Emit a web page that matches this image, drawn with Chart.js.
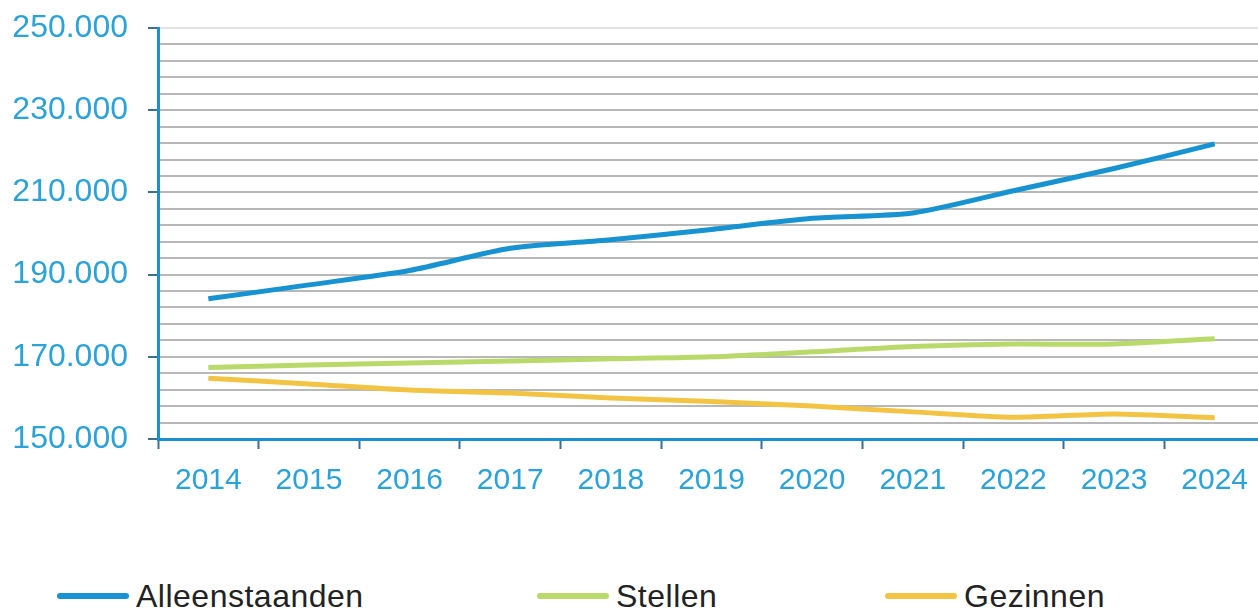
<!DOCTYPE html>
<html>
<head>
<meta charset="utf-8">
<script src="https://cdn.jsdelivr.net/npm/chart.js@4/dist/chart.umd.min.js"></script>
<style>
  html, body { margin: 0; padding: 0; background: #fff; overflow: hidden; }
  #wrap { position: relative; width: 1258px; height: 610px; overflow: hidden; }
  #chartBox { position: absolute; left: 0; top: 0; width: 1266px; height: 540px; }
  .legend-item { position: absolute; top: 578px; display: flex; align-items: center; line-height: 36px;
    font-family: "Liberation Sans", Arial, sans-serif; font-size: 32px; color: #222; letter-spacing: 0.5px; }
  .legend-item span.swatch { display: inline-block; height: 6px; border-radius: 3px; margin-right: 7px; }
</style>
</head>
<body>
<div id="wrap">
  <div id="chartBox"><canvas id="lineChart" width="1266" height="540"></canvas></div>
  <div id="legend"></div>
</div>
<script>
const years = ['2014', '2015', '2016', '2017', '2018', '2019', '2020', '2021', '2022', '2023', '2024'];
const seriesNames = ['Alleenstaanden', 'Stellen', 'Gezinnen'];
const alleenstaanden = [184100, 187500, 191000, 196400, 198500, 201000, 203700, 205000, 210400, 215800, 221800];
const stellen = [167400, 168000, 168500, 169000, 169500, 170000, 171200, 172500, 173100, 173100, 174400];
const gezinnen = [164800, 163400, 161900, 161200, 160000, 159100, 158000, 156600, 155300, 156100, 155200];
const yLabelValues = [150000, 170000, 190000, 210000, 230000, 250000];

const colors = ['#1793d1', '#b9da6b', '#f3c444'];
const axisBlue = '#1a8fd2';
const labelBlue = '#2ba2d8';

function formatThousands(v) {
    return String(v).replace(/\B(?=(\d{3})+(?!\d))/g, '.');
}

const ctx = document.getElementById('lineChart').getContext('2d');
const allSeries = [alleenstaanden, stellen, gezinnen];

new Chart(ctx, {
    type: 'line',
    data: {
        labels: years,
        datasets: allSeries.map((vals, i) => ({
            label: seriesNames[i],
            data: vals,
            borderColor: colors[i],
            borderWidth: 5,
            pointRadius: 0,
            tension: 0.25,
            fill: false
        }))
    },
    options: {
        responsive: false,
        animation: false,
        layout: { padding: { top: 28, right: 1, left: 0, bottom: 0 } },
        plugins: {
            legend: { display: false },
            tooltip: { enabled: false }
        },
        scales: {
            y: {
                min: 150000,
                max: 250000,
                afterFit: (scale) => {
                    scale.width = 158;
                    scale.paddingTop = 0;
                    scale.paddingBottom = 0;
                },
                border: { display: true, color: axisBlue, width: 3 },
                grid: {
                    color: (c) => c.tick && c.tick.value === 250000 ? '#e2e2e2' : '#b8b8b8',
                    lineWidth: 2,
                    tickLength: 10,
                    tickColor: (c) => yLabelValues.includes(c.tick.value) ? '#3a6f93' : 'rgba(0,0,0,0)',
                    tickWidth: 2
                },
                ticks: {
                    stepSize: 4000,
                    autoSkip: false,
                    padding: 20,
                    color: labelBlue,
                    font: { family: 'Liberation Sans', size: 32 },
                    callback: (v) => yLabelValues.includes(v) ? formatThousands(v) : ''
                }
            },
            x: {
                offset: true,
                afterFit: (scale) => { scale.height = 101; },
                border: { display: true, color: axisBlue, width: 3 },
                grid: {
                    offset: true,
                    drawOnChartArea: false,
                    drawTicks: true,
                    tickLength: 10,
                    tickColor: '#3a6f93',
                    tickWidth: 2
                },
                ticks: {
                    padding: 14,
                    color: labelBlue,
                    maxRotation: 0,
                    font: { family: 'Liberation Sans', size: 30 }
                }
            }
        }
    }
});

// legend laid out under the chart
const legendPos = [57, 537, 885];
const legend = document.getElementById('legend');
seriesNames.forEach((name, i) => {
    const item = document.createElement('div');
    item.className = 'legend-item';
    item.style.left = legendPos[i] + 'px';
    const sw = document.createElement('span');
    sw.className = 'swatch';
    sw.style.width = '72px';
    sw.style.background = colors[i];
    item.appendChild(sw);
    item.appendChild(document.createTextNode(name));
    legend.appendChild(item);
});
</script>
</body>
</html>
